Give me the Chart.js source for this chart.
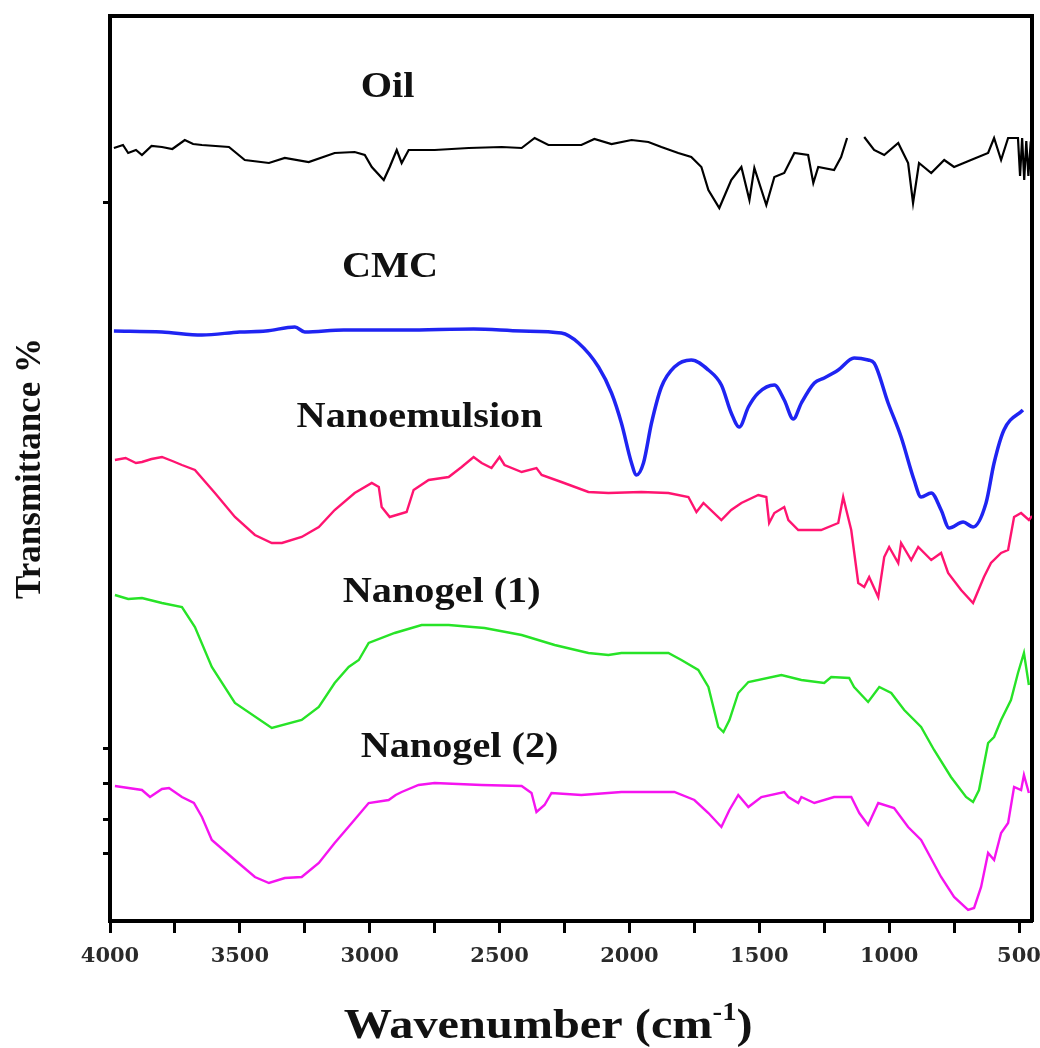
<!DOCTYPE html>
<html>
<head>
<meta charset="utf-8">
<script src="https://cdn.jsdelivr.net/npm/chart.js@4.4.1/dist/chart.umd.min.js"></script>
<style>
  html, body { margin: 0; padding: 0; background: #fff; }
  #wrap { width: 1040px; height: 1048px; }
</style>
</head>
<body>
<div id="wrap"><canvas id="ftir"></canvas></div>
<script>
// ─── DATA (wavenumber cm-1 / transmittance, arbitrary offset units) ───
const oilWn = [3985, 3950, 3930, 3900, 3877, 3840, 3800, 3760, 3712, 3680, 3646, 3542, 3481, 3388, 3327, 3235, 3135, 3058, 3019, 2992, 2946, 2923, 2896, 2877, 2850, 2750, 2619, 2492, 2415, 2365, 2312, 2185, 2135, 2069, 1992, 1927, 1877, 1812, 1762, 1723, 1696, 1654, 1608, 1569, 1538, 1519, 1473, 1442, 1404, 1365, 1312, 1292, 1273, 1212, 1185, 1162, 1130, 1096, 1058, 1019, 965, 927, 908, 885, 838, 788, 750, 685, 619, 596, 569, 542, 504, 496, 488, 480, 472, 464, 456, 450];
const oilT  = [773, 776, 768, 771, 766, 775, 774, 772, 781, 777, 776, 774, 761, 758, 763, 759, 768, 769, 766, 754, 741, 754, 771, 758, 771, 771, 773, 774, 773, 783, 776, 776, 782, 777, 781, 779, 774, 768, 764, 754, 731, 713, 741, 754, 721, 753, 716, 744, 748, 768, 766, 738, 754, 751, 764, 783, null, 784, 771, 766, 778, 758, 718, 758, 748, 761, 754, 761, 768, 783, 761, 783, 783, 745, 783, 741, 780, 745, 775, 771];

const cmcWn = [3985, 3800, 3646, 3500, 3400, 3288, 3250, 3100, 2865, 2600, 2415, 2262, 2196, 2119, 2069, 2031, 1992, 1973, 1946, 1915, 1877, 1827, 1762, 1696, 1646, 1608, 1577, 1542, 1504, 1442, 1404, 1369, 1338, 1288, 1250, 1196, 1135, 1081, 1058, 1004, 954, 904, 877, 838, 800, 769, 715, 677, 627, 596, 558, 485];
const cmcT  = [590, 589, 586, 589, 590, 594, 589, 591, 591, 592, 590, 588, 578, 554, 528, 498, 458, 446, 458, 498, 534, 554, 561, 551, 536, 508, 494, 514, 528, 536, 521, 502, 518, 538, 543, 551, 563, 561, 558, 518, 484, 441, 424, 428, 411, 393, 399, 394, 418, 458, 491, 511];

const emuWn = [3981, 3940, 3900, 3877, 3840, 3800, 3760, 3723, 3673, 3596, 3519, 3442, 3377, 3338, 3262, 3196, 3135, 3058, 2992, 2965, 2954, 2923, 2858, 2831, 2773, 2696, 2646, 2600, 2569, 2531, 2500, 2481, 2415, 2358, 2338, 2262, 2158, 2081, 1954, 1850, 1773, 1742, 1715, 1646, 1608, 1569, 1504, 1473, 1462, 1442, 1404, 1388, 1350, 1312, 1262, 1196, 1177, 1165, 1146, 1119, 1096, 1077, 1042, 1019, 1000, 965, 954, 915, 888, 838, 800, 773, 723, 677, 635, 608, 569, 542, 519, 492, 462, 450];
const emuT  = [461, 463, 458, 459, 462, 464, 460, 456, 451, 428, 404, 386, 378, 378, 384, 394, 411, 428, 438, 434, 414, 404, 409, 431, 441, 444, 454, 464, 458, 453, 464, 456, 449, 453, 446, 439, 429, 428, 429, 428, 424, 409, 418, 401, 411, 418, 426, 424, 398, 408, 414, 401, 391, 391, 391, 398, 424, 411, 391, 338, 334, 344, 324, 364, 374, 358, 378, 361, 374, 361, 368, 348, 331, 318, 344, 358, 368, 371, 404, 408, 401, 405];

const gel1Wn = [3981, 3930, 3877, 3800, 3723, 3673, 3608, 3519, 3377, 3262, 3196, 3135, 3081, 3042, 3004, 2904, 2800, 2696, 2558, 2415, 2288, 2158, 2081, 2031, 1850, 1800, 1735, 1696, 1658, 1638, 1615, 1581, 1542, 1415, 1338, 1250, 1223, 1154, 1135, 1081, 1038, 992, 942, 877, 827, 762, 704, 677, 654, 619, 596, 569, 531, 504, 481, 462];
const gel1T  = [326, 322, 323, 318, 314, 294, 254, 218, 193, 201, 214, 238, 254, 261, 278, 288, 296, 296, 293, 286, 276, 268, 266, 268, 268, 261, 251, 234, 194, 189, 201, 228, 239, 246, 241, 238, 244, 243, 234, 219, 234, 228, 211, 194, 171, 144, 124, 119, 131, 178, 184, 201, 221, 248, 268, 236];

const gel2Wn = [3981, 3877, 3846, 3800, 3773, 3723, 3677, 3646, 3608, 3519, 3442, 3388, 3327, 3262, 3196, 3135, 3069, 3004, 2927, 2900, 2877, 2812, 2750, 2569, 2415, 2377, 2358, 2327, 2300, 2185, 2031, 1827, 1750, 1696, 1646, 1615, 1581, 1542, 1492, 1404, 1388, 1350, 1338, 1288, 1212, 1146, 1115, 1081, 1042, 981, 927, 877, 800, 750, 696, 673, 646, 619, 596, 569, 542, 519, 492, 481, 462];
const gel2T  = [135, 131, 124, 132, 133, 124, 118, 104, 81, 61, 44, 38, 43, 44, 58, 78, 98, 118, 121, 126, 129, 136, 138, 136, 135, 128, 109, 116, 128, 126, 129, 129, 121, 108, 94, 111, 126, 114, 124, 129, 124, 118, 124, 118, 124, 124, 108, 96, 118, 113, 94, 81, 44, 24, 11, 13, 34, 68, 61, 88, 98, 134, 131, 146, 128];

const xTickValues = [500, 750, 1000, 1250, 1500, 1750, 2000, 2250, 2500, 2750, 3000, 3250, 3500, 3750, 4000];
const yTickValues = [68, 102, 138, 173, 718];

// curve names and where they are written (data coords: wavenumber, baseline)
const curveNames = ['Oil', 'CMC', 'Nanoemulsion', 'Nanogel (1)', 'Nanogel (2)'];
const nameAnchors = [
  { wn: 2931, t: 824 },
  { wn: 2922, t: 644 },
  { wn: 2808, t: 494 },
  { wn: 2723, t: 319 },
  { wn: 2654, t: 164 },
];

const SERIF = "'Liberation Serif', 'Times New Roman', serif";
const STRETCH = 1.15; // the scanned figure is a bit wider than tall

function pts(wn, t) {
  return wn.map((w, i) => ({ x: w, y: t[i] }));
}

function series(label, wn, t, color, width, opts = {}) {
  return {
    label, data: pts(wn, t),
    borderColor: color, borderWidth: width,
    pointRadius: 0, fill: false, tension: 0,
    xAxisID: 'x', yAxisID: 'y',
    ...opts,
  };
}

// ─── CURVE NAMES + X TITLE (stretched, with real superscript) ───
const textPlugin = {
  id: 'figText',
  afterDatasetsDraw(chart) {
    const { ctx, scales: { x, y } } = chart;
    ctx.save();
    ctx.font = `bold 35px ${SERIF}`;
    ctx.fillStyle = '#111';
    ctx.textAlign = 'center';
    ctx.textBaseline = 'alphabetic';
    curveNames.forEach((name, i) => {
      const a = nameAnchors[i];
      ctx.save();
      ctx.translate(x.getPixelForValue(a.wn), y.getPixelForValue(a.t));
      ctx.scale(STRETCH, 1);
      ctx.fillText(name, 0, 0);
      ctx.restore();
    });
    ctx.restore();
  },
  afterDraw(chart) {
    const { ctx, scales: { x } } = chart;
    const big = `bold 42px ${SERIF}`, small = `bold 25px ${SERIF}`;
    ctx.save();
    ctx.fillStyle = '#111';
    ctx.textBaseline = 'alphabetic';
    ctx.textAlign = 'left';
    ctx.font = big;
    const w1 = ctx.measureText('Wavenumber (cm').width;
    const w3 = ctx.measureText(')').width;
    ctx.font = small;
    const w2 = ctx.measureText('-1').width;
    const total = w1 + w2 + w3;
    const cx = x.getPixelForValue(2313);
    const base = x.bottom - 10;
    ctx.translate(cx, base);
    ctx.scale(STRETCH, 1);
    let px = -total / 2;
    ctx.font = big;
    ctx.fillText('Wavenumber (cm', px, 0);
    px += w1;
    ctx.font = small;
    ctx.fillText('-1', px, -18);
    px += w2;
    ctx.font = big;
    ctx.fillText(')', px, 0);
    ctx.restore();
  },
};

new Chart(document.getElementById('ftir'), {
  type: 'line',
  data: {
    datasets: [
      series('Oil', oilWn, oilT, '#000000', 2.2, { spanGaps: false }),
      series('CMC', cmcWn, cmcT, '#1f24f2', 3.5, { cubicInterpolationMode: 'monotone' }),
      series('Nanoemulsion', emuWn, emuT, '#ff1470', 2.4),
      series('Nanogel (1)', gel1Wn, gel1T, '#27e327', 2.4),
      series('Nanogel (2)', gel2Wn, gel2T, '#f514f0', 2.4),
    ],
  },
  options: {
    responsive: true,
    maintainAspectRatio: false,
    animation: false,
    layout: { padding: 0 },
    plugins: { legend: { display: false }, tooltip: { enabled: false } },
    scales: {
      x: {
        type: 'linear', position: 'bottom', min: 450, max: 4000, reverse: true,
        afterBuildTicks: s => { s.ticks = xTickValues.map(v => ({ value: v })); },
        afterFit: s => { s.height = 127; s.paddingLeft = 0; s.paddingRight = 0; },
        ticks: {
          autoSkip: false, maxRotation: 0, padding: 11, color: '#2a2a2a',
          font: { family: "'DejaVu Serif', serif", weight: 'bold', size: 21 },
          callback: v => (v % 500 === 0 ? String(v) : ''),
        },
        grid: { drawOnChartArea: false, tickLength: 12, tickWidth: 3, tickColor: '#000' },
        border: { color: '#000', width: 4 },
        title: { display: false },
      },
      x2: {
        type: 'linear', position: 'top',
        afterFit: s => { s.height = 16; s.paddingLeft = 0; s.paddingRight = 0; },
        ticks: { display: false },
        grid: { drawOnChartArea: false, drawTicks: false },
        border: { color: '#000', width: 4 },
      },
      y: {
        type: 'linear', position: 'left', min: 0, max: 905,
        afterBuildTicks: s => { s.ticks = yTickValues.map(v => ({ value: v })); },
        afterFit: s => { s.width = 110; },
        ticks: { display: false },
        grid: { drawOnChartArea: false, tickLength: 7, tickWidth: 3, tickColor: '#000' },
        border: { color: '#000', width: 4 },
        title: {
          display: true, text: 'Transmittance %', color: '#111',
          font: { family: SERIF, weight: 'bold', size: 35 },
          padding: { top: 10, bottom: 0 },
        },
      },
      y2: {
        type: 'linear', position: 'right',
        afterFit: s => { s.width = 8; },
        ticks: { display: false },
        grid: { drawOnChartArea: false, drawTicks: false },
        border: { color: '#000', width: 4 },
      },
    },
  },
  plugins: [textPlugin],
});
</script>
</body>
</html>
